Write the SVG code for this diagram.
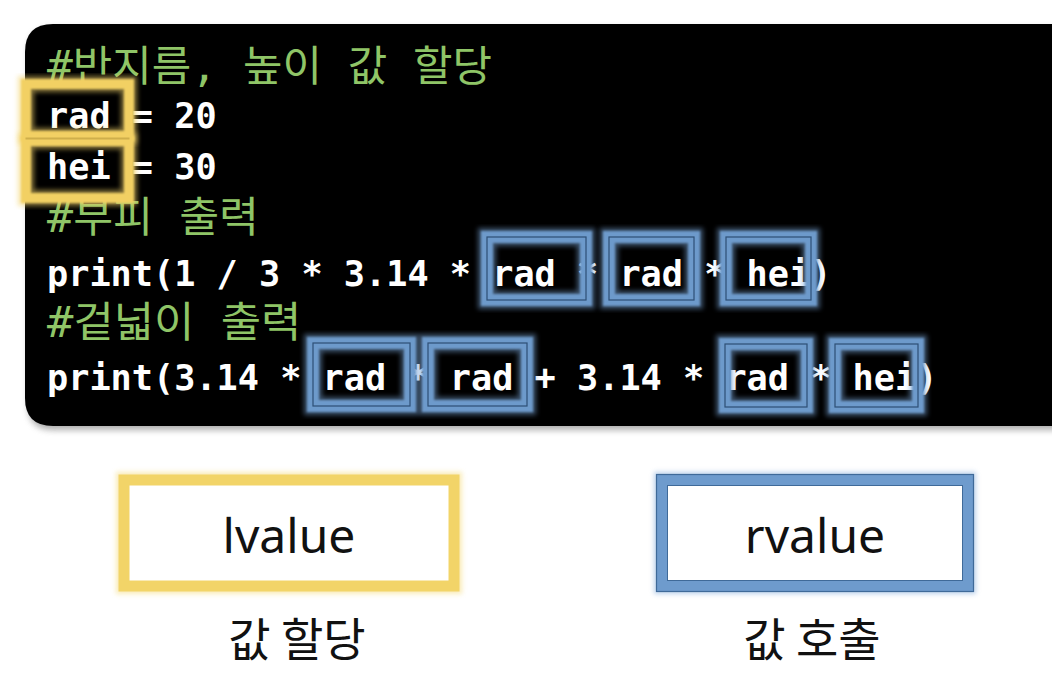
<svg xmlns="http://www.w3.org/2000/svg" width="1052" height="676" viewBox="0 0 1052 676">
  <defs>
    <filter id="blur2" x="-20%" y="-20%" width="140%" height="140%">
      <feGaussianBlur stdDeviation="2.5"/>
    </filter>
    <filter id="blur1" x="-20%" y="-20%" width="140%" height="140%">
      <feGaussianBlur stdDeviation="1.2"/>
    </filter>
    <filter id="shadow" x="-5%" y="-10%" width="110%" height="130%">
      <feGaussianBlur stdDeviation="3"/>
    </filter>
  </defs>
  <style>
    .code { font-family: "DejaVu Sans Mono", "Liberation Mono", monospace; font-size: 35px; font-weight: bold; fill: #ffffff; }
    .cmt { font-family: "DejaVu Sans Mono", "Noto Sans CJK KR", monospace; font-size: 42px; fill: #8fc567; }
    .yglow { fill: none; stroke: #f3d36b; stroke-width: 16; opacity: 0.55; filter: url(#blur2); }
    .yband { fill: none; stroke: #f2d064; stroke-width: 10; filter: url(#blur1); }
    .ythin { fill: none; stroke: #b89a3c; stroke-width: 1; opacity: 0.6; }
    .bglow { fill: none; stroke: #7aa6d8; stroke-width: 18; opacity: 0.5; filter: url(#blur2); }
    .bband { fill: none; stroke: #6d9acb; stroke-width: 12; filter: url(#blur1); }
    .bthin { fill: none; stroke: #2e4f75; stroke-width: 1.2; }
    .lbl { font-family: "Noto Sans", "Liberation Sans", sans-serif; font-size: 48px; fill: #111111; text-anchor: middle; }
    .klbl { font-family: "Noto Sans CJK KR", sans-serif; font-size: 46px; font-weight: 400; fill: #111111; text-anchor: middle; }
  </style>
  <rect x="0" y="0" width="1052" height="676" fill="#ffffff"/>

  <!-- code panel -->
  <g id="panel">
    <path d="M53 28 H1060 V430 H53 Q28 430 28 405 V53 Q28 28 53 28 Z" fill="#777777" opacity="0.6" filter="url(#shadow)"/>
    <path d="M53 24 H1060 V426 H53 Q25 426 25 398 V52 Q25 24 53 24 Z" fill="#000000"/>
  </g>

  <g id="code">
    <text class="cmt" x="47" y="81" textLength="445" lengthAdjust="spacingAndGlyphs">#반지름, 높이 값 할당</text>
    <text class="code" x="47" y="128" textLength="169.6" lengthAdjust="spacingAndGlyphs">rad = 20</text>
    <text class="code" x="47" y="179" textLength="169.6" lengthAdjust="spacingAndGlyphs">hei = 30</text>
    <text class="cmt" x="47" y="232" textLength="212" lengthAdjust="spacingAndGlyphs">#부피 출력</text>
    <text class="code" x="47" y="286" textLength="784.4" lengthAdjust="spacingAndGlyphs">print(1 / 3 * 3.14 * rad * rad * hei)</text>
    <text class="cmt" x="47" y="337" textLength="254.4" lengthAdjust="spacingAndGlyphs">#겉넓이 출력</text>
    <text class="code" x="47" y="390" textLength="890.4" lengthAdjust="spacingAndGlyphs">print(3.14 * rad * rad + 3.14 * rad * hei)</text>
  </g>

  <!-- lvalue highlights (yellow) -->
  <g id="lvalue-highlights">
    <rect class="yglow" x="26" y="84" width="103" height="52"/>
    <rect class="yglow" x="26" y="141" width="103" height="57"/>
    <rect class="yband" x="26" y="84" width="103" height="52"/>
    <rect class="yband" x="26" y="141" width="103" height="57"/>
    <rect class="ythin" x="26" y="138" width="103" height="1"/>
  </g>

  <!-- rvalue highlights (blue) -->
  <g id="rvalue-highlights">
    <rect class="bglow" x="487" y="237" width="99" height="63"/>
    <rect class="bglow" x="609" y="237" width="85" height="63"/>
    <rect class="bglow" x="726" y="237" width="85" height="63"/>
    <rect class="bglow" x="313" y="343" width="97" height="63"/>
    <rect class="bglow" x="428" y="343" width="99" height="63"/>
    <rect class="bglow" x="725" y="344" width="82" height="63"/>
    <rect class="bglow" x="835" y="344" width="83" height="63"/>
    <rect class="bband" x="487" y="237" width="99" height="63"/>
    <rect class="bband" x="609" y="237" width="85" height="63"/>
    <rect class="bband" x="726" y="237" width="85" height="63"/>
    <rect class="bband" x="313" y="343" width="97" height="63"/>
    <rect class="bband" x="428" y="343" width="99" height="63"/>
    <rect class="bband" x="725" y="344" width="82" height="63"/>
    <rect class="bband" x="835" y="344" width="83" height="63"/>
    <rect class="bthin" x="487" y="237" width="99" height="63"/>
    <rect class="bthin" x="609" y="237" width="85" height="63"/>
    <rect class="bthin" x="726" y="237" width="85" height="63"/>
    <rect class="bthin" x="313" y="343" width="97" height="63"/>
    <rect class="bthin" x="428" y="343" width="99" height="63"/>
    <rect class="bthin" x="725" y="344" width="82" height="63"/>
    <rect class="bthin" x="835" y="344" width="83" height="63"/>
  </g>

  <!-- legend nodes -->
  <g id="lvalue-box">
    <rect x="124" y="480" width="330" height="106" fill="none" stroke="#f4d871" stroke-width="16" opacity="0.5" filter="url(#blur2)"/>
    <rect x="124" y="480" width="330" height="106" fill="#ffffff" stroke="#f2d468" stroke-width="11"/>
    <text class="lbl" x="289" y="553">lvalue</text>
    <text class="klbl" x="297" y="656">값 할당</text>
  </g>
  <g id="rvalue-box">
    <rect x="662" y="480" width="306" height="106" fill="none" stroke="#7aa6d8" stroke-width="16" opacity="0.5" filter="url(#blur2)"/>
    <rect x="662" y="480" width="306" height="106" fill="#ffffff" stroke="#6e9bcd" stroke-width="11"/>
    <rect x="656.5" y="474.5" width="317" height="117" fill="none" stroke="#3f6a99" stroke-width="1.2"/>
    <rect x="667.5" y="485.5" width="295" height="95" fill="none" stroke="#3f6a99" stroke-width="1"/>
    <text class="lbl" x="815" y="553">rvalue</text>
    <text class="klbl" x="812" y="656">값 호출</text>
  </g>
</svg>
